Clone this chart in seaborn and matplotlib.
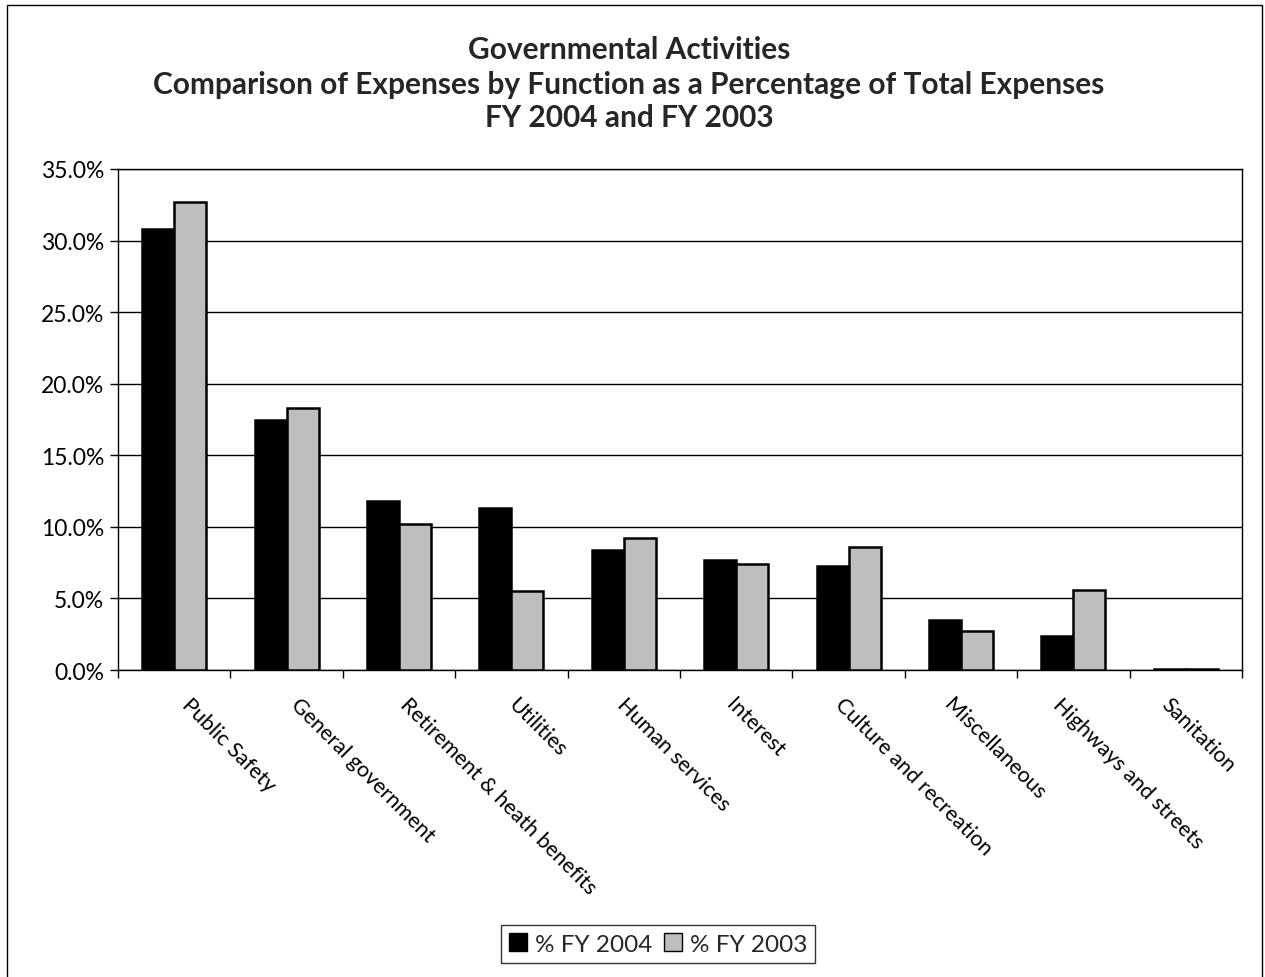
import numpy as np
import pandas as pd
import matplotlib
matplotlib.use("Agg")
import matplotlib.pyplot as plt
from matplotlib.ticker import FuncFormatter, FixedLocator, NullFormatter
from matplotlib.patches import Rectangle
from matplotlib.transforms import ScaledTranslation
import seaborn as sns

categories = ["Public Safety", "General government", "Retirement & heath benefits",
              "Utilities", "Human services", "Interest", "Culture and recreation",
              "Miscellaneous", "Highways and streets", "Sanitation"]
fy2004 = [30.8, 17.5, 11.8, 11.3, 8.4, 7.7, 7.3, 3.5, 2.4, 0.1]
fy2003 = [32.7, 18.3, 10.2, 5.5, 9.2, 7.4, 8.6, 2.7, 5.6, 0.1]
series = ["% FY 2004", "% FY 2003"]

df = pd.DataFrame({
    "Function": categories * 2,
    "Percent": fy2004 + fy2003,
    "Series": [series[0]] * len(categories) + [series[1]] * len(categories),
})

sns.set_theme(style="white")
plt.rcParams["font.family"] = ["Lato", "DejaVu Sans"]

W, H = 1265, 978
fig = plt.figure(figsize=(W / 100, H / 100), dpi=100)
ax = fig.add_axes([118 / W, 1 - 671 / H, (1242 - 118) / W, (671 - 170) / H])

palette = {series[0]: "#000000", series[1]: "#bebebe"}
sns.barplot(data=df, x="Function", y="Percent", hue="Series", order=categories,
            hue_order=series, palette=palette, width=0.57, saturation=1,
            edgecolor="black", linewidth=1.8, ax=ax, legend=False, zorder=3)

ax.set_ylim(0, 35)
ax.set_xlim(-0.5, len(categories) - 0.5)
ax.yaxis.set_major_locator(FixedLocator(np.arange(0, 35.1, 5)))
ax.yaxis.set_major_formatter(FuncFormatter(lambda v, p: f"{v:.1f}%"))
ax.grid(axis="y", color="black", linewidth=1.0, zorder=0)
ax.set_axisbelow(True)
ax.set_xlabel("")
ax.set_ylabel("")

for s in ax.spines.values():
    s.set_color("black")
    s.set_linewidth(1.0)

ax.tick_params(axis="y", which="major", left=True, length=6, width=1, color="black",
               labelsize=16.5, pad=4, labelcolor="black")
ax.tick_params(axis="x", which="major", bottom=False, length=0, labelsize=15.5, pad=17,
               labelcolor="black")
ax.set_xticks(np.arange(-0.5, len(categories), 1.0), minor=True)
ax.xaxis.set_minor_formatter(NullFormatter())
ax.tick_params(axis="x", which="minor", bottom=True, length=6, width=1, color="black")

# rotated category labels, packed slightly tighter than the category spacing
for i, lab in enumerate(ax.get_xticklabels()):
    lab.set_rotation(-45)
    lab.set_ha("left")
    lab.set_va("top")
    lab.set_rotation_mode("anchor")
    dx = (18 - 3.55 * i) / 100
    lab.set_transform(lab.get_transform() + ScaledTranslation(dx, 0, fig.dpi_scale_trans))

title_lines = ["Governmental Activities",
               "Comparison of Expenses by Function as a Percentage of Total Expenses",
               "FY 2004 and FY 2003"]
for txt, y in zip(title_lines, [50, 85, 118]):
    fig.text(629 / W, 1 - y / H, txt, ha="center", va="center",
             fontsize=21.5, fontweight="bold")

handles = [Rectangle((0, 0), 1, 1, facecolor=palette[s], edgecolor="black", linewidth=1)
           for s in series]
leg = fig.legend(handles, series, loc="center", bbox_to_anchor=(658 / W, 1 - 945 / H),
                 ncol=2, frameon=True, fancybox=False, fontsize=17.5, handlelength=0.75,
                 handleheight=0.75, handletextpad=0.3, columnspacing=0.5, borderpad=0.35)
leg.get_frame().set_edgecolor("black")
leg.get_frame().set_linewidth(1.0)

fig.patches.append(Rectangle((7 / W, -0.01), (1262 - 7) / W, 1.01 - 6 / H,
                             transform=fig.transFigure, fill=False,
                             edgecolor="black", linewidth=1.0))

fig.savefig("out.png", dpi=100, facecolor="white")
